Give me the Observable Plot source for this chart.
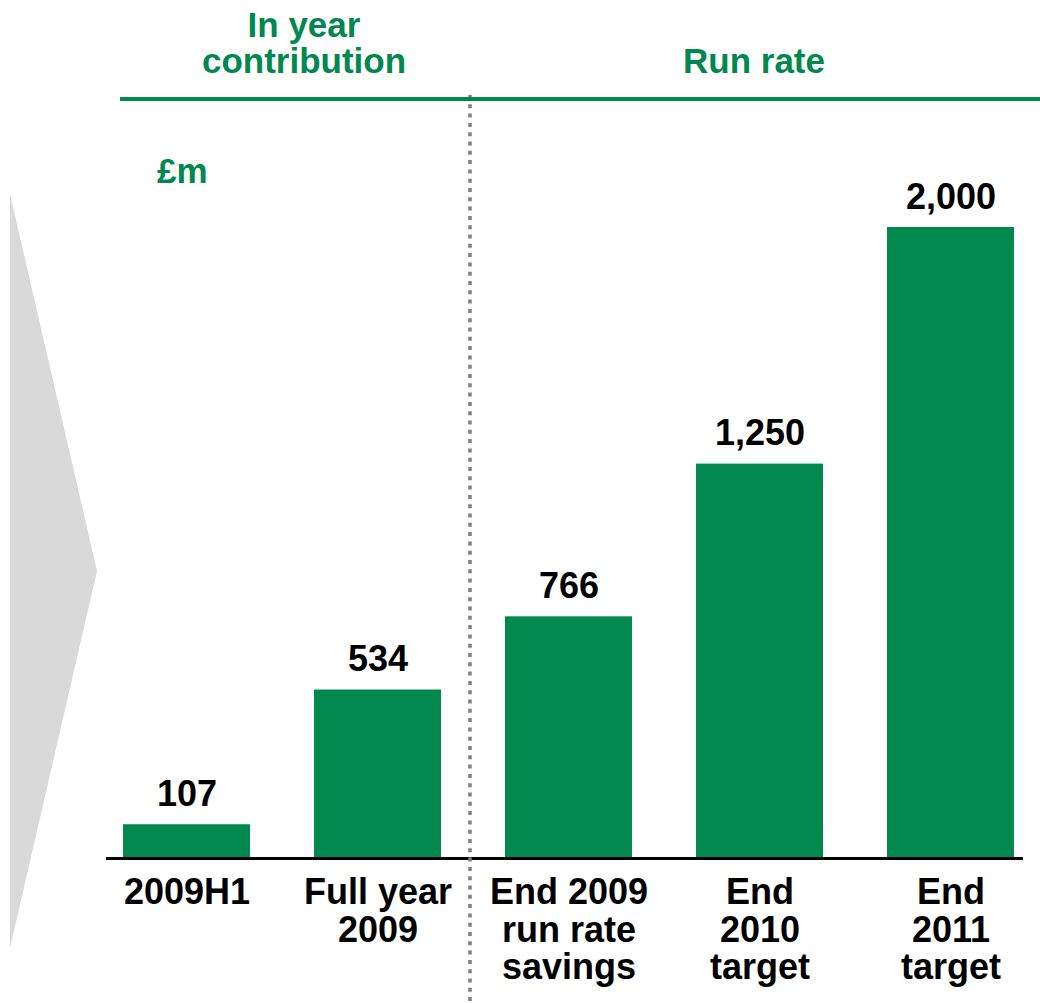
<!DOCTYPE html>
<html><head><meta charset="utf-8">
<script src="https://cdn.jsdelivr.net/npm/d3@7"></script>
<script src="https://cdn.jsdelivr.net/npm/@observablehq/plot@0.6"></script>
<style>
body{margin:0;background:#fff;font-family:"Liberation Sans",Arial,sans-serif;}
#chart{position:relative;width:1040px;height:1003px;}
</style></head><body><div id="chart"></div>
<script>
const categories = ["2009H1","Full year\n2009","End 2009\nrun rate\nsavings","End\n2010\ntarget","End\n2011\ntarget"];
const values = [107, 534, 766, 1250, 2000];
const valueLabels = ["107", "534", "766", "1,250", "2,000"];
const groupTitles = [["In year", "contribution"], ["Run rate"]];
const unitLabel = "£m";

const data = categories.map((c, i) => ({category: c, value: values[i], label: valueLabels[i]}));
const green = "#00884f";
const font = "Liberation Sans, Arial, sans-serif";

const plot = Plot.plot({
  width: 1040, height: 1003,
  marginLeft: 106, marginRight: 17, marginTop: 227, marginBottom: 145,
  style: {fontFamily: font, background: "transparent", color: "#000", overflow: "visible"},
  x: {domain: categories, paddingInner: 0.337, paddingOuter: 0, insetLeft: 16, insetRight: 8},
  y: {domain: [0, 2000], axis: null},
  marks: [
    Plot.barY(data, {x: "category", y: "value", fill: green}),
    Plot.ruleY([0], {stroke: "#000", strokeWidth: 3}),
    Plot.text(data, {x: "category", y: "value", text: "label", dy: -19, lineAnchor: "bottom",
      fontSize: 36, fontWeight: "bold", fill: "#000"}),
    Plot.axisX({tickSize: 0, tickPadding: 19, fontSize: 36, fontWeight: "bold", lineHeight: 1.04, label: null})
  ]
});
document.getElementById("chart").appendChild(plot);

const svg = d3.select(plot);
// decorative grey chevron behind
svg.insert("polygon", ":first-child")
  .attr("points", "10,194 97,571 10,948")
  .attr("fill", "#d9d9d9");

// divider between groups, from the x scale
const xs = plot.scale("x");
const b1 = xs.apply(categories[1]);
const b2 = xs.apply(categories[2]);
const divX = (b1 + xs.bandwidth + b2) / 2 - 3;
svg.append("line")
  .attr("x1", divX).attr("x2", divX).attr("y1", 95).attr("y2", 1003)
  .attr("stroke", "#808080").attr("stroke-width", 3.5).attr("stroke-dasharray", "4,5.3");

// header rule
svg.append("line")
  .attr("x1", 120).attr("x2", 1040).attr("y1", 99).attr("y2", 99)
  .attr("stroke", green).attr("stroke-width", 4);

// group titles
const titleX = [304, 754];
groupTitles.forEach((lines, gi) => {
  lines.forEach((ln, li) => {
    svg.append("text")
      .attr("text-anchor", "middle").attr("fill", green)
      .attr("font-family", font).attr("font-size", 35).attr("font-weight", "bold")
      .attr("x", titleX[gi])
      .attr("y", 73 - (lines.length - 1 - li) * 36).text(ln);
  });
});

// unit label
svg.append("text")
  .attr("x", 157).attr("y", 183).attr("fill", green).attr("text-anchor", "start")
  .attr("font-family", font).attr("font-size", 35).attr("font-weight", "bold")
  .text(unitLabel);
</script></body></html>
